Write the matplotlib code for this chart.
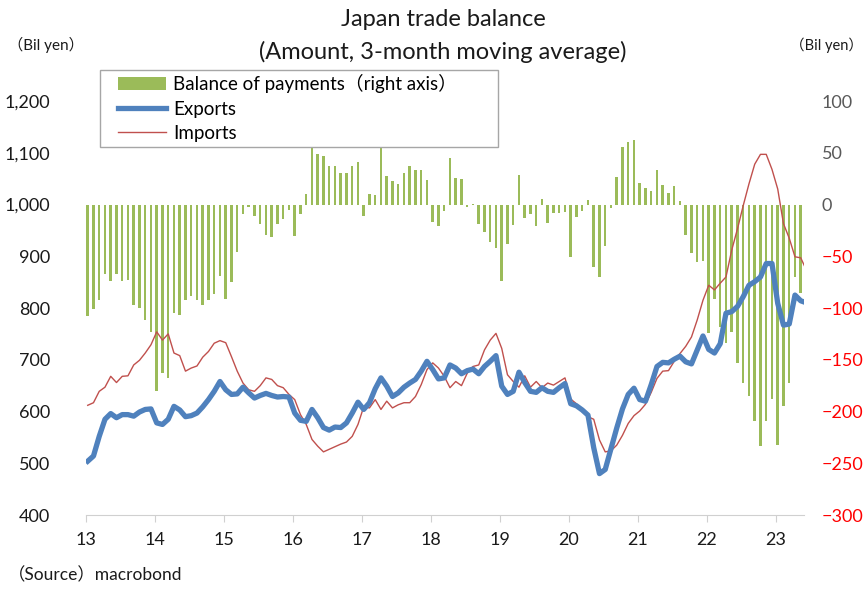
import numpy as np
import matplotlib
matplotlib.use("Agg")
import matplotlib.pyplot as plt
from matplotlib.ticker import FuncFormatter
from matplotlib.patches import Patch, Rectangle
from matplotlib.lines import Line2D

plt.rcParams['font.family'] = ['Lato', 'Noto Sans CJK JP', 'DejaVu Sans']

# monthly data, Jan 2013 - Jun 2023 (bil yen, 3-month moving average)
start_year = 13
balance = [-108, -101, -92, -67, -74, -67, -74, -73, -97, -100, -112, -123,
           -180, -163, -168, -105, -107, -92, -88, -92, -97, -92, -86, -69,
           -91, -75, -46, -9, -2, -11, -19, -29, -31, -19, -14, -5,
           -30, -9, 10, 58, 49, 47, 37, 37, 30, 30, 37, 41,
           -11, 10, 9, 62, 28, 23, 20, 30, 37, 33, 33, 24,
           -17, -21, -6, 45, 26, 25, -2, 1, -19, -27, -36, -42,
           -74, -38, -20, 29, -13, -9, -21, 5, -18, -8, -8, -7,
           -51, -12, -6, 4, -60, -70, -40, -3, 27, 56, 60, 62,
           21, 16, 13, 33, 19, 11, 18, 3, -29, -47, -56, -55,
           -124, -91, -118, -134, -123, -153, -172, -185, -209, -233, -209, -188,
           -232, -195, -172, -70, -85, -63]
exports = [504, 514, 552, 585, 596, 588, 594, 594, 591, 599, 604, 605,
           578, 575, 585, 610, 603, 590, 592, 597, 609, 623, 639, 658,
           642, 633, 634, 647, 636, 626, 631, 635, 631, 628, 629, 628,
           597, 583, 581, 604, 588, 569, 564, 570, 569, 578, 597, 618,
           604, 617, 644, 665, 649, 629, 636, 647, 655, 662, 678, 697,
           681, 663, 665, 690, 684, 673, 679, 682, 673, 687, 697, 708,
           649, 633, 639, 676, 656, 639, 637, 646, 639, 637, 646, 654,
           615, 611, 603, 593, 530, 480, 488, 528, 568, 605, 633, 645,
           623, 620, 652, 687, 695, 694, 701, 707, 696, 692, 719, 746,
           720, 713, 731, 790, 793, 803, 822, 844, 851, 860, 886, 886,
           809, 767, 769, 825, 814, 810]
imports = [612, 617, 639, 647, 668, 656, 668, 669, 690, 699, 713, 729,
           754, 738, 750, 713, 708, 678, 684, 688, 705, 716, 732, 737,
           733, 706, 678, 655, 642, 639, 650, 665, 662, 650, 646, 633,
           623, 594, 575, 546, 533, 522, 527, 532, 537, 541, 552, 575,
           609, 607, 623, 604, 620, 607, 613, 617, 617, 629, 652, 681,
           694, 684, 668, 646, 658, 650, 674, 687, 690, 719, 738, 751,
           722, 671, 658, 647, 669, 647, 658, 646, 655, 651, 658, 665,
           624, 615, 600, 590, 585, 545, 522, 524, 535, 554, 577, 592,
           601, 614, 637, 664, 678, 679, 697, 712, 726, 744, 777, 815,
           844, 835, 848, 860, 912, 953, 998, 1040, 1078, 1097, 1097, 1068,
           1030, 963, 935, 899, 897, 873]
year_ticks = list(range(13, 24))

x = start_year + (np.arange(len(exports)) + 0.3) / 12

green = '#9BBB59'
blue = '#4F81BD'
red = '#C0504D'

fig = plt.figure(figsize=(8.66, 5.92), dpi=100)
ax1 = fig.add_axes([86 / 866, 1 - 515 / 592, 717.6 / 866, 445 / 592])
ax2 = ax1.twinx()

# balance bars on the right axis, drawn underneath the lines
ax2.bar(x, balance, width=0.036, color=green, linewidth=0)
ax2.set_ylim(-300, 130)
ax2.set_yticks(range(-300, 101, 50))
ax2.tick_params(axis='y', length=0, pad=13, labelsize=13)
for lab, v in zip(ax2.get_yticklabels(), range(-300, 101, 50)):
    lab.set_color('red' if v < 0 else '#595959')

ax1.set_zorder(ax2.get_zorder() + 1)
ax1.patch.set_visible(False)
ax1.plot(x, imports, color=red, lw=1.0)
ax1.plot(x, exports, color=blue, lw=3.8, solid_joinstyle='round')
ax1.set_ylim(400, 1260)
ax1.set_yticks(range(400, 1201, 100))
ax1.yaxis.set_major_formatter(FuncFormatter(lambda v, p: f'{int(v):,}'))
ax1.tick_params(axis='y', length=0, pad=26, labelsize=13, labelcolor='#1a1a1a')
ax1.set_xlim(13, 23.4)
ax1.set_xticks(year_ticks)
ax1.set_xticklabels([str(t) for t in year_ticks])
ax1.tick_params(axis='x', length=5, width=0.8, color='#D0D0D0', pad=7,
                labelsize=13, labelcolor='#1a1a1a')

for a in (ax1, ax2):
    for s in ('top', 'left', 'right'):
        a.spines[s].set_visible(False)
    a.spines['bottom'].set_color('#D0D0D0')
    a.spines['bottom'].set_linewidth(0.8)
ax2.spines['bottom'].set_visible(False)

# legend box: frame drawn separately so the entries sit inset from it
ax1.add_patch(Rectangle((14 / 717.6, 1 - 77 / 445), 398 / 717.6, 77 / 445,
                        transform=ax1.transAxes, facecolor='white',
                        edgecolor='#A6A6A6', lw=1.0, clip_on=False, zorder=4))
handles = [Patch(facecolor=green, edgecolor='none'),
           Line2D([], [], color=blue, lw=3.8),
           Line2D([], [], color=red, lw=1.0)]
labels = ['Balance of payments（right axis）', 'Exports', 'Imports']
leg = ax1.legend(handles, labels, loc='upper left',
                 bbox_to_anchor=(32 / 717.6, 1 - 4 / 445),
                 fontsize=13.5, frameon=False,
                 handlelength=2.55, handleheight=0.75, handletextpad=0.4,
                 labelspacing=0.4, borderpad=0, borderaxespad=0)
leg.set_zorder(5)

fig.text(443 / 866, 1 - 20 / 592, 'Japan trade balance', ha='center', va='center',
         fontsize=17, color='#1a1a1a')
fig.text(443 / 866, 1 - 52 / 592, '(Amount, 3-month moving average)', ha='center',
         va='center', fontsize=17, color='#1a1a1a')
fig.text(8 / 866, 1 - 45 / 592, '（Bil yen）', ha='left', va='center',
         fontsize=11, color='#1a1a1a')
fig.text(863 / 866, 1 - 45 / 592, '（Bil yen）', ha='right', va='center',
         fontsize=10.5, color='#1a1a1a')
fig.text(8 / 866, 1 - 575 / 592, '（Source）macrobond', ha='left', va='center',
         fontsize=12.5, color='#1a1a1a')

fig.savefig('out.png', dpi=100)
